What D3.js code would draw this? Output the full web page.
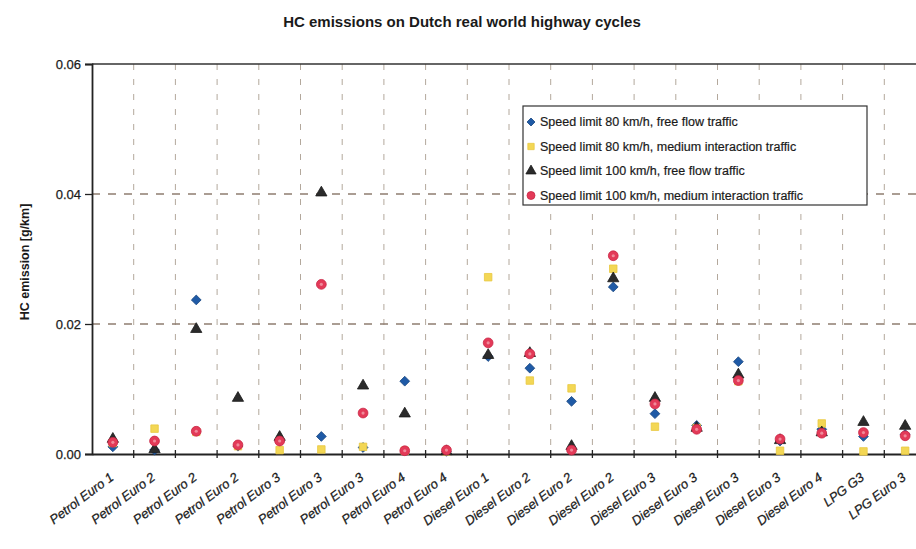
<!DOCTYPE html>
<html><head><meta charset="utf-8">
<script src="https://cdn.jsdelivr.net/npm/d3@7"></script>
<style>
html,body{margin:0;padding:0;background:#fff;}
svg{display:block;font-family:Arial,"Liberation Sans",sans-serif;}
</style></head>
<body><svg id="chart" width="916" height="549"></svg>
<script>
const categories = ["Petrol Euro 1","Petrol Euro 2","Petrol Euro 2","Petrol Euro 2","Petrol Euro 3","Petrol Euro 3","Petrol Euro 3","Petrol Euro 4","Petrol Euro 4","Diesel Euro 1","Diesel Euro 2","Diesel Euro 2","Diesel Euro 2","Diesel Euro 3","Diesel Euro 3","Diesel Euro 3","Diesel Euro 3","Diesel Euro 4","LPG G3","LPG Euro 3"];
const seriesNames = ["Speed limit 80 km/h, free flow traffic","Speed limit 80 km/h, medium interaction traffic","Speed limit 100 km/h, free flow traffic","Speed limit 100 km/h, medium interaction traffic"];
const blue80free   = [0.0011,0.0006,0.0237,0.0012,0.0020,0.0027,0.0010,0.0112,0.0004,0.0150,0.0132,0.0081,0.0257,0.0062,0.0044,0.0142,0.0020,0.0038,0.0027,0.0030];
const yellow80med  = [0.0017,0.0039,0.0034,0.0012,0.0006,0.0007,0.0011,0.0005,0.0004,0.0272,0.0113,0.0101,0.0285,0.0042,0.0040,0.0112,0.0005,0.0047,0.0004,0.0005];
const black100free = [0.0023,0.0007,0.0192,0.0086,0.0026,0.0402,0.0105,0.0062,0.0004,0.0152,0.0155,0.0012,0.0270,0.0086,0.0040,0.0122,0.0021,0.0033,0.0049,0.0043];
const red100med    = [0.0018,0.0020,0.0035,0.0014,0.0020,0.0261,0.0063,0.0005,0.0006,0.0171,0.0154,0.0006,0.0305,0.0077,0.0038,0.0113,0.0023,0.0032,0.0033,0.0028];
const yTicks = [0, 0.02, 0.04, 0.06];
const yTickLabels = ["0.00","0.02","0.04","0.06"];

const svg = d3.select("#chart");
const pLeft = 92, pRight = 926, pTop = 64, pBottom = 454;

const x = d3.scaleBand().domain(d3.range(categories.length)).range([pLeft, pRight]);
const y = d3.scaleLinear().domain([0, 0.06]).range([pBottom, pTop]);

// title
svg.append("text").attr("x", 462).attr("y", 27).attr("text-anchor","middle")
  .attr("font-size", 15).attr("font-weight","bold").attr("fill","#1a1a1a")
  .text("HC emissions on Dutch real world highway cycles");

// vertical dashed gridlines at category boundaries
const g = svg.append("g");
g.selectAll("line.vg").data(d3.range(1, categories.length)).join("line")
  .attr("x1", d => x(d)).attr("x2", d => x(d))
  .attr("y1", pTop).attr("y2", pBottom)
  .attr("stroke", "#b3a89c").attr("stroke-width", 1).attr("stroke-dasharray","6,9");

// horizontal dashed gridlines
g.append("g").selectAll("line").data([0.02, 0.04]).join("line")
  .attr("x1", pLeft).attr("x2", pRight).attr("y1", d => y(d)).attr("y2", d => y(d))
  .attr("stroke", "#8e7e70").attr("stroke-width", 1.3).attr("stroke-dasharray","8,8");

// top border
svg.append("line").attr("x1", pLeft).attr("x2", pRight).attr("y1", y(0.06)).attr("y2", y(0.06))
  .attr("stroke","#333").attr("stroke-width",1.5);

// y axis
const yAxis = d3.axisLeft(y).tickValues(yTicks).tickFormat((d,i) => yTickLabels[i]).tickSize(7).tickPadding(4);
const ya = svg.append("g").attr("transform", `translate(${pLeft},0)`).call(yAxis);
ya.select(".domain").attr("stroke","#222").attr("stroke-width",1.8);
ya.selectAll(".tick line").attr("stroke","#222").attr("stroke-width",1.3);
ya.selectAll(".tick text").attr("font-size",13).attr("fill","#1a1a1a")
  .attr("stroke","#1a1a1a").attr("stroke-width",0.25)
  .attr("font-family","Arial, 'Liberation Sans', sans-serif");

// x axis
const xAxis = d3.axisBottom(x).tickFormat(i => categories[i]).tickSize(0);
const xa = svg.append("g").attr("transform", `translate(0,${pBottom})`).call(xAxis);
xa.select(".domain").attr("stroke","#222").attr("stroke-width",1.8);
xa.selectAll(".tick text")
  .attr("font-size",13).attr("fill","#1a1a1a").attr("font-style","italic")
  .attr("stroke","#1a1a1a").attr("stroke-width",0.25)
  .attr("font-family","Arial, 'Liberation Sans', sans-serif")
  .attr("text-anchor","end").attr("dy","0.35em")
  .attr("transform","translate(-3,19) rotate(-37)");
// boundary tick marks crossing the axis
svg.append("g").selectAll("line").data(d3.range(1, categories.length)).join("line")
  .attr("x1", d => x(d)).attr("x2", d => x(d)).attr("y1", pBottom - 4).attr("y2", pBottom + 4)
  .attr("stroke","#222").attr("stroke-width",1.3);

// y axis title
svg.append("text").attr("transform","translate(29,262) rotate(-90)").attr("text-anchor","middle")
  .attr("font-size",12.5).attr("font-weight","bold").attr("fill","#1a1a1a")
  .text("HC emission [g/km]");

// markers
const cx = i => x(i) + x.bandwidth()/2;
const squatDiamond = { draw(ctx, size) { const r = Math.sqrt(size/2); ctx.moveTo(0,-r); ctx.lineTo(r,0); ctx.lineTo(0,r); ctx.lineTo(-r,0); ctx.closePath(); } };
const series = [
  {vals: blue80free, type: "diamond", fill: "#1f5aa6", stroke: "#17457f"},
  {vals: yellow80med, type: "square", fill: "#f3d755", stroke: "#e8c840"},
  {vals: black100free, type: "triangle", fill: "#2b2b2b", stroke: "#1a1a1a"},
  {vals: red100med, type: "circle", fill: "#e33a58", stroke: "#c92645"}
];
const symbolPath = {
  diamond: d3.symbol().type(squatDiamond).size(48)(),
  square: d3.symbol().type(d3.symbolSquare).size(56)(),
  triangle: d3.symbol().type(d3.symbolTriangle).size(55)(),
  circle: d3.symbol().type(d3.symbolCircle).size(75)()
};
const legendPath = {
  diamond: d3.symbol().type(squatDiamond).size(32)(),
  square: d3.symbol().type(d3.symbolSquare).size(40)(),
  triangle: d3.symbol().type(d3.symbolTriangle).size(45)(),
  circle: d3.symbol().type(d3.symbolCircle).size(50)()
};
const mg = svg.append("g");
series.forEach(s => {
  mg.append("g").selectAll("path").data(s.vals).join("path")
    .attr("d", symbolPath[s.type])
    .attr("transform", (v,i) => `translate(${cx(i)},${y(v)})`)
    .attr("fill", s.fill).attr("stroke", s.stroke).attr("stroke-width", 0.8);
  if (s.type === "circle") {
    mg.append("g").selectAll("circle").data(s.vals).join("circle")
      .attr("cx", (v,i) => cx(i)).attr("cy", v => y(v)).attr("r", 1.6)
      .attr("fill", "#f08a9a");
  }
});

// legend
const lg = svg.append("g").attr("transform","translate(523,106)");
lg.append("rect").attr("x",0).attr("y",0).attr("width",344).attr("height",99)
  .attr("fill","#fff").attr("stroke","#333").attr("stroke-width",1.2);
series.forEach((s,i) => {
  const yy = 16 + i*24.5;
  lg.append("path").attr("d", legendPath[s.type]).attr("transform",`translate(8,${yy})`)
    .attr("fill", s.fill).attr("stroke", s.stroke).attr("stroke-width",0.8);
  lg.append("text").attr("x",17).attr("y",yy).attr("dy","0.35em")
    .attr("font-size",12.5).attr("fill","#1a1a1a").attr("stroke","#1a1a1a").attr("stroke-width",0.2)
    .text(seriesNames[i]);
});
</script>
</body></html>
